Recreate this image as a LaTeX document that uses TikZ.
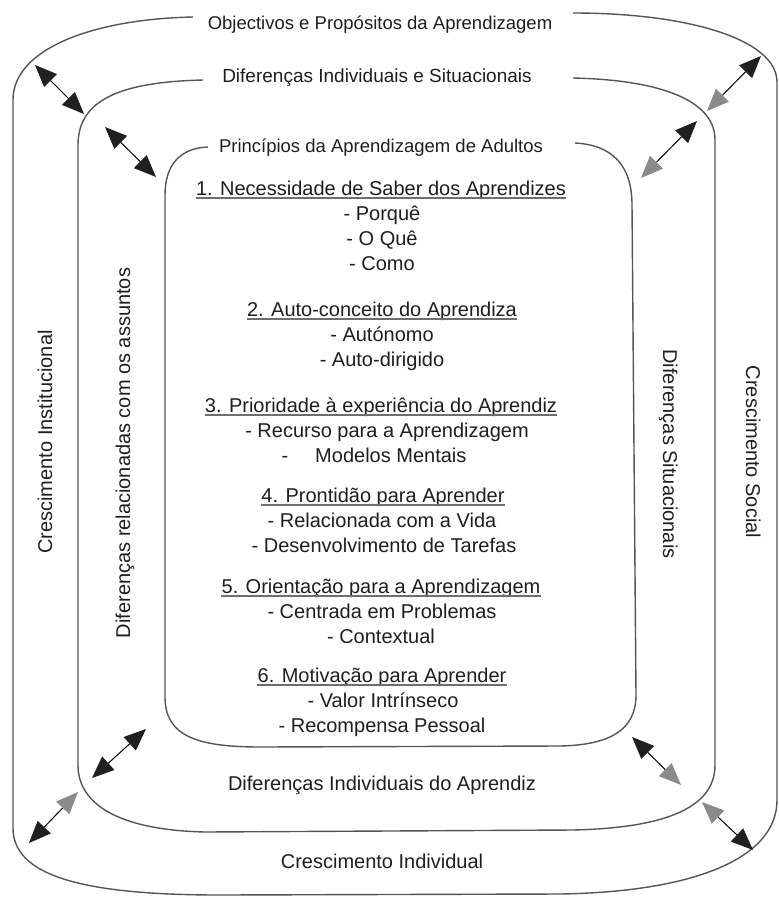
\documentclass[tikz,border=0pt]{standalone}
\usepackage{fontspec}
\setmainfont{Liberation Sans}
\usetikzlibrary{arrows.meta}
\providecommand{\labelsize}{\fontsize{20pt}{25pt}\selectfont}
\providecommand{\titlesize}{\fontsize{18.5pt}{25pt}\selectfont}
\definecolor{ringgray}{HTML}{555555}
\definecolor{inkgray}{HTML}{1E1E1E}
\definecolor{tipdark}{HTML}{202020}
\definecolor{tipgray}{HTML}{8A8A8A}
\definecolor{rulegray}{HTML}{6E6E6E}

\tikzset{
  ring/.style={draw=ringgray,line width=1.4pt},
  lbl/.style={inner sep=0,anchor=base,text=inkgray,font=\labelsize},
  title/.style={lbl,font=\titlesize},
  uline/.style={draw=rulegray,line width=1.8pt},
  link/.style={draw=black,line width=1pt},
  dd/.style={link,arrows={Triangle[length=22pt,width=18pt,color=tipdark]-Triangle[length=22pt,width=18pt,color=tipdark]}},
  dg/.style={link,arrows={Triangle[length=22pt,width=18pt,color=tipdark]-Triangle[length=22pt,width=18pt,color=tipgray]}},
  gd/.style={link,arrows={Triangle[length=22pt,width=18pt,color=tipgray]-Triangle[length=22pt,width=18pt,color=tipdark]}},
}

\begin{document}
\begin{tikzpicture}[x=1pt,y=-1pt]
    \pgfmathsetmacro{\midx}{382}
    \useasboundingbox (0,0) rectangle (779,897);

    % the three rings, each open at the top for its title
    \draw[ring] (193,17) .. controls (95,19) and (13,48) .. (13,100) -- (13,828)
        .. controls (13,875) and (80,895) .. (220,895) -- (560,894)
        .. controls (690,892) and (777,860) .. (777,800) -- (777,82)
        .. controls (777,40) and (690,13) .. (573,13);
    \draw[ring] (203,80) .. controls (120,82) and (78,100) .. (78,145) -- (78,765)
        .. controls (78,805) and (120,830) .. (205,832) -- (573,830)
        .. controls (660,828) and (715,810) .. (715,765) -- (715,140)
        .. controls (715,100) and (660,80) .. (573,78);
    \draw[ring] (208,147) .. controls (180,148) and (165,165) .. (165,195) -- (165,697)
        .. controls (165,735) and (195,747) .. (260,747) -- (560,746)
        .. controls (610,745) and (636,730) .. (636,695) -- (632,205)
        .. controls (632,165) and (612,145) .. (575,143);

    \node[title] (outtitle) at (380,29) {Objectivos e Propósitos da Aprendizagem};
    \node[title,font=\fontsize{19pt}{25pt}\selectfont] (midtitle) at (377,82) {Diferenças Individuais e Situacionais};
    \node[title] (intitle) at (381,152) {Princípios da Aprendizagem de Adultos};

    \node[lbl] (midbottom) at (382,790) {Diferenças Individuais do Aprendiz};
    \node[lbl] (outbottom) at (382,868) {Crescimento Individual};

    \node[lbl,rotate=90] (outleft) at (52,442) {Crescimento Institucional};
    \node[lbl,rotate=90] (midleft) at (130,453) {Diferenças relacionadas com os assuntos};
    \node[lbl,rotate=-90] (midright) at (663,454) {Diferenças Situacionais};
    \node[lbl,rotate=-90] (outright) at (746,452) {Crescimento Social};

    % the six principles
    \node[lbl] (h1) at (381,195) {1. Necessidade de Saber dos Aprendizes};
    \node[lbl] (h1a) at (\midx,220) {- Porquê};
    \node[lbl] (h1b) at (\midx,245) {- O Quê};
    \node[lbl] (h1c) at (\midx,270) {- Como};
    \node[lbl] (h2) at (\midx,316) {2. Auto-conceito do Aprendiza};
    \node[lbl] (h2a) at (\midx,341) {- Autónomo};
    \node[lbl] (h2b) at (\midx,366) {- Auto-dirigido};
    \node[lbl] (h3) at (381,412) {3. Prioridade à experiência do Aprendiz};
    \node[lbl] (h3a) at (387,437) {- Recurso para a Aprendizagem};
    \node[lbl] (h3b) at (374,462) {-\hspace{27pt}Modelos Mentais};
    \node[lbl] (h4) at (383,502) {4. Prontidão para Aprender};
    \node[lbl] (h4a) at (\midx,527) {- Relacionada com a Vida};
    \node[lbl] (h4b) at (384,552) {- Desenvolvimento de Tarefas};
    \node[lbl] (h5) at (381,593) {5. Orientação para a Aprendizagem};
    \node[lbl] (h5a) at (\midx,618) {- Centrada em Problemas};
    \node[lbl] (h5b) at (381,643) {- Contextual};
    \node[lbl] (h6) at (\midx,682) {6. Motivação para Aprender};
    \node[lbl] (h6a) at (383,707) {- Valor Intrínseco};
    \node[lbl] (h6b) at (\midx,732) {- Recompensa Pessoal};

    \foreach \h in {h1,h2,h3,h4,h5,h6}
        \draw[uline] ([yshift=-3pt]\h.base west) -- ([yshift=-3pt]\h.base east);

    % double arrows across the rings
    \coordinate (a1) at (35,65);   \coordinate (b1) at (84,114);
    \coordinate (a2) at (105,127); \coordinate (b2) at (156,177);
    \coordinate (a3) at (761,56);  \coordinate (b3) at (707,111);
    \coordinate (a4) at (697,121); \coordinate (b4) at (641,178);
    \coordinate (a5) at (146,729); \coordinate (b5) at (92,778);
    \coordinate (a6) at (78,792);  \coordinate (b6) at (29,843);
    \coordinate (a7) at (632,737); \coordinate (b7) at (681,785);
    \coordinate (a8) at (702,802); \coordinate (b8) at (753,850);
    \draw[dd] (a1) -- (b1);
    \draw[dd] (a2) -- (b2);
    \draw[dg] (a3) -- (b3);
    \draw[dg] (a4) -- (b4);
    \draw[dd] (a5) -- (b5);
    \draw[gd] (a6) -- (b6);
    \draw[dg] (a7) -- (b7);
    \draw[gd] (a8) -- (b8);
\end{tikzpicture}
\end{document}
